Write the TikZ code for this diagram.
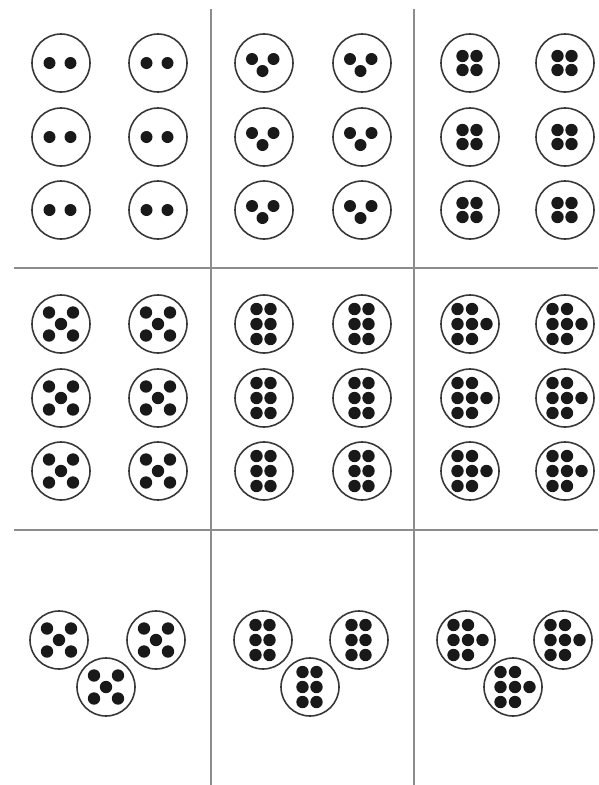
\documentclass[tikz,border=0pt]{standalone}
\tikzset{
  plate/.style={circle, draw=black!78, line width=1.6pt, minimum size=58pt, inner sep=0pt},
  pip/.style={fill=black!90},
  divider/.style={draw=black!45, line width=2.2pt},
  pics/two/.style={code={
    \node[plate] (-disc) {};
    \fill[pip] (-11.5,0) circle (6pt) (9.5,0) circle (6pt);}},
  pics/three/.style={code={
    \node[plate] (-disc) {};
    \fill[pip] (-12,-4) circle (6pt) (9.5,-4) circle (6pt) (-1.5,8) circle (6pt);}},
  pics/four/.style={code={
    \node[plate] (-disc) {};
    \foreach \u in {-7.5,6.5} \foreach \v in {-7,7} \fill[pip] (\u,\v) circle (6.2pt);}},
  pics/five/.style={code={
    \node[plate] (-disc) {};
    \foreach \u in {-12,12} \foreach \v in {-11.5,11.5} \fill[pip] (\u,\v) circle (6.2pt);
    \fill[pip] (0,0) circle (6.2pt);}},
  pics/six/.style={code={
    \node[plate] (-disc) {};
    \foreach \u in {-7.5,6.5} \foreach \v in {-15,0,15} \fill[pip] (\u,\v) circle (6.2pt);}},
  pics/seven/.style={code={
    \node[plate] (-disc) {};
    \foreach \u in {-12.5,2} \foreach \v in {-15,0,15} \fill[pip] (\u,\v) circle (6.2pt);
    \fill[pip] (16.5,0) circle (6.2pt);}}
}
\begin{document}
\begin{tikzpicture}[x=1pt, y=-1pt]
\useasboundingbox (0,0) rectangle (598,785);

% dividers
\draw[divider] (211,9) -- (211,785);
\draw[divider] (414,9) -- (414,785);
\draw[divider] (14,268) -- (598,268);
\draw[divider] (14,530) -- (598,530);

% top row of panels
\foreach \x/\y [count=\i] in {61/63,158/63,61/137,158/137,61/210,158/210}
  \pic (two\i) at (\x,\y) {two};
\foreach \x/\y [count=\i] in {264/63,362/63,264/137,362/137,264/210,362/210}
  \pic (three\i) at (\x,\y) {three};
\foreach \x/\y [count=\i] in {470/63,565/63,470/137,565/137,470/210,565/210}
  \pic (four\i) at (\x,\y) {four};

% middle row of panels
\foreach \x/\y [count=\i] in {61/324,158/324,61/398,158/398,61/471,158/471}
  \pic (five\i) at (\x,\y) {five};
\foreach \x/\y [count=\i] in {264/324,362/324,264/398,362/398,264/471,362/471}
  \pic (six\i) at (\x,\y) {six};
\foreach \x/\y [count=\i] in {470/324,565/324,470/398,565/398,470/471,565/471}
  \pic (seven\i) at (\x,\y) {seven};

% bottom row of panels
\foreach \x/\y [count=\i] in {59/640,156/640,106/687}
  \pic (lowfive\i) at (\x,\y) {five};
\foreach \x/\y [count=\i] in {263/640,359/640,310/687}
  \pic (lowsix\i) at (\x,\y) {six};
\foreach \x/\y [count=\i] in {466/640,563/640,513/687}
  \pic (lowseven\i) at (\x,\y) {seven};
\end{tikzpicture}
\end{document}
